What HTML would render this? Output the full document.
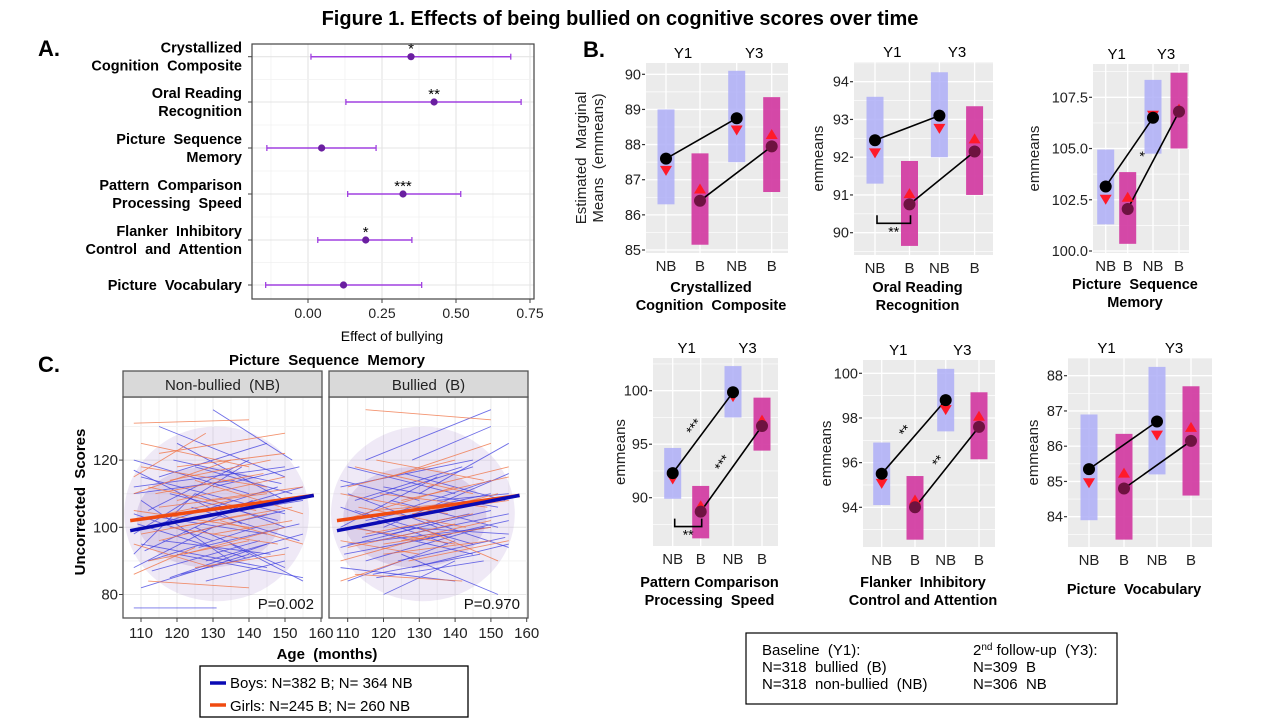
<!DOCTYPE html>
<html><head><meta charset="utf-8"><title>Figure 1</title>
<style>
html,body{margin:0;padding:0;background:#fff;}
svg{display:block;font-family:"Liberation Sans",Arial,sans-serif;}
text{white-space:pre;}
</style></head>
<body>
<svg id="fig" width="1280" height="720" viewBox="0 0 1280 720" xmlns="http://www.w3.org/2000/svg">
<text x="620" y="25" text-anchor="middle" font-size="20" font-weight="bold">Figure 1. Effects of being bullied on cognitive scores over time</text>
<text x="38" y="56" font-size="22" font-weight="bold">A.</text>
<text x="583" y="57" font-size="22" font-weight="bold">B.</text>
<text x="38" y="372" font-size="22" font-weight="bold">C.</text>
<g id="pa"></g>
<g id="pb"></g>
<g id="pc"></g>
<g>
<rect x="746" y="633" width="371" height="71" fill="#fff" stroke="#000" stroke-width="1.2"/>
<text font-size="15">
<tspan x="762" y="655">Baseline  (Y1):</tspan>
<tspan x="762" y="672">N=318  bullied  (B)</tspan>
<tspan x="762" y="689">N=318  non-bullied  (NB)</tspan>
<tspan x="973" y="655">2<tspan font-size="10" dy="-5">nd</tspan><tspan dy="5"> follow-up  (Y3):</tspan></tspan>
<tspan x="973" y="672">N=309  B</tspan>
<tspan x="973" y="689">N=306  NB</tspan>
</text>
</g>
</svg>
<script>
// ---------- Panel A data ----------
const aCategories = ["Crystallized|Cognition  Composite","Oral Reading|Recognition","Picture  Sequence|Memory","Pattern  Comparison|Processing  Speed","Flanker  Inhibitory|Control  and  Attention","Picture  Vocabulary"];
const aEstimates = [0.348,0.426,0.046,0.321,0.195,0.120];
const aLower = [0.010,0.128,-0.139,0.134,0.033,-0.143];
const aUpper = [0.685,0.720,0.230,0.516,0.351,0.384];
const aStars = ["*","**","","***","*",""];
const aTicks = [0,0.25,0.5,0.75];
const aTickLabels = ["0.00","0.25","0.50","0.75"];

// ---------- Panel B data ----------
const bTitles = [["Crystallized","Cognition  Composite"],["Oral Reading","Recognition"],["Picture  Sequence","Memory"],["Pattern Comparison","Processing  Speed"],["Flanker  Inhibitory","Control and Attention"],["Picture  Vocabulary"]];
const bCategories = ["NB","B","NB","B"];
const bBarLow = [[86.3,85.15,87.5,86.65],[91.3,89.65,92.0,91.0],[101.3,100.35,104.75,105.0],[89.9,86.2,97.5,94.4],[94.1,92.55,97.4,96.15],[83.9,83.35,85.2,84.6]];
const bBarHigh = [[89.0,87.75,90.1,89.35],[93.6,91.9,94.25,93.35],[104.95,103.85,108.35,108.7],[94.65,91.1,102.3,99.35],[96.9,95.4,100.2,99.15],[86.9,86.35,88.25,87.7]];
const bMeans = [[87.6,86.4,88.75,87.95],[92.45,90.75,93.1,92.15],[103.15,102.05,106.5,106.8],[92.3,88.7,99.85,96.7],[95.5,94.0,98.8,97.6],[85.35,84.8,86.7,86.15]];
const bTriangles = [[87.25,86.75,88.4,88.3],[92.1,91.05,92.75,92.5],[102.5,102.65,106.6,106.95],[91.7,89.3,99.4,97.3],[95.05,94.35,98.35,98.1],[84.95,85.25,86.3,86.55]];
const bTicks = [[85,86,87,88,89,90],[90,91,92,93,94],[100,102.5,105,107.5],[90,95,100],[94,96,98,100],[84,85,86,87,88]];
const bTickLabels = [["85","86","87","88","89","90"],["90","91","92","93","94"],["100.0","102.5","105.0","107.5"],["90","95","100"],["94","96","98","100"],["84","85","86","87","88"]];
const bLineStars = [["",""],["",""],["","*"],["***","***"],["**","**"],["",""]];
const bBracketStars = ["","**","","**","",""];

// ---------- Panel C data (age months, score) ----------
const cFacets = ["Non-bullied  (NB)","Bullied  (B)"];
const cPvalues = ["P=0.002","P=0.970"];
const cXTicks = [110,120,130,140,150,160];
const cYTicks = [80,100,120];
const cBoysFitAge = [107,158];
const cBoysFitScore = [[99,109.5],[99,109.5]];
const cGirlsFitAge = [107,158];
const cGirlsFitScore = [[102,109.5],[102,109.5]];
const cBoysNB = [[108,112,150,118],[110,95,145,88],[112,105,140,120],[115,130,150,115],[108,88,130,100],[120,92,155,85],[125,110,150,100],[108,76,131,76],[130,135,152,120],[112,100,148,112],[118,85,145,95],[108,120,140,110],[122,98,150,105],[110,108,135,90],[128,90,155,98],[115,115,145,125],[108,92,125,110],[132,105,155,112],[120,125,150,108],[110,82,140,92],[125,100,150,88],[115,103,145,98],[108,98,138,118],[135,95,155,84],[118,110,148,102],[112,90,142,100],[125,118,152,110],[108,104,130,96],[128,84,150,90],[120,102,155,108],[110,115,150,104],[116,96,146,92],[108,110,136,114],[124,106,154,96],[113,87,143,96],[130,112,154,118],[109,101,139,91],[119,120,149,113],[111,93,141,108],[121,86,151,94],[108,117,138,101],[126,94,154,101]];
const cGirlsNB = [[108,131,140,132],[110,118,145,112],[108,102,135,108],[115,122,150,128],[112,90,140,96],[120,108,150,115],[108,95,130,88],[118,100,148,95],[125,114,155,104],[108,110,135,120],[112,84,140,82],[130,98,152,102],[115,106,145,110],[108,115,128,128],[122,92,150,100],[110,125,140,118],[128,108,155,112],[115,96,145,104],[108,86,125,94],[120,118,150,122],[132,102,155,95],[112,112,142,105],[125,88,150,92],[108,105,140,100],[114,110,144,116],[120,100,152,106],[110,98,140,104],[118,114,146,120]];
const cBoysB = [[108,112,145,120],[110,95,150,100],[115,120,150,135],[108,88,140,84],[120,100,155,116],[125,92,152,80],[112,105,145,95],[130,110,155,125],[108,100,135,115],[118,85,148,90],[110,118,140,110],[122,98,150,105],[128,88,155,95],[115,108,145,118],[108,94,130,100],[132,102,155,94],[120,112,152,106],[110,84,140,96],[125,105,150,114],[115,90,148,100],[108,106,138,95],[128,120,150,130],[118,96,155,104],[112,100,145,92],[135,108,155,110],[120,80,140,90],[108,114,130,108],[125,100,155,98],[115,102,150,110],[110,110,135,100],[114,97,144,104],[122,108,152,100],[109,92,139,98],[126,116,154,108],[117,86,147,92],[130,96,155,102],[112,108,142,118],[124,90,154,97]];
const cGirlsB = [[115,135,150,132],[108,102,140,112],[112,118,145,110],[120,95,150,100],[108,90,135,98],[125,108,155,115],[110,112,140,120],[130,100,152,90],[118,105,148,108],[108,96,130,92],[122,115,150,125],[112,86,142,84],[128,104,155,108],[115,98,145,104],[108,110,138,104],[120,92,150,96],[132,112,155,118],[110,100,140,95],[125,96,150,102],[118,120,148,114],[108,84,125,90],[122,102,152,110],[113,106,143,100],[127,90,155,96],[110,94,140,101],[119,110,149,106]];

const NS="http://www.w3.org/2000/svg";
function mk(parent,tag,attrs,txt){const e=document.createElementNS(NS,tag);for(const k in attrs)e.setAttribute(k,attrs[k]);if(txt!==undefined)e.textContent=txt;parent.appendChild(e);return e;}

// ================= Panel A =================
(function(){
  const g=document.getElementById('pa');
  const L=252,R=534,T=44,B=299;
  const x=v=>308+v*296;
  const rowY=[56.7,102,148,194,240,285];
  const bg=mk(g,'rect',{x:L,y:T,width:R-L,height:B-T,fill:'#fff'});
  
  
  for(let v=-0.125;v<=0.76;v+=0.125){
    const major=Math.abs(v/0.25-Math.round(v/0.25))<1e-6;
    const l=mk(g,'line',{x1:x(v),x2:x(v),y1:T,y2:B,stroke:major?'#e4e4e4':'#f1f1f1','stroke-width':major?1.1:0.8});
    
    
  }
  for(let i=0;i<rowY.length;i++){
    const l=mk(g,'line',{x1:L,x2:R,y1:rowY[i],y2:rowY[i],stroke:'#e4e4e4','stroke-width':1.1});
    
    
    if(i<rowY.length-1){const m=(rowY[i]+rowY[i+1])/2;const l2=mk(g,'line',{x1:L,x2:R,y1:m,y2:m,stroke:'#f1f1f1','stroke-width':0.8});}
  }
  const fr=mk(g,'rect',{x:L,y:T,width:R-L,height:B-T,fill:'none',stroke:'#444','stroke-width':1.2});
  
  
  aCategories.forEach((c,i)=>{
    const y=rowY[i];
    const tk=mk(g,'line',{x1:L-4,x2:L,y1:y,y2:y,stroke:'#444'});
    
    
    const parts=c.split('|');
    const t=mk(g,'text',{'font-size':14.5,'font-weight':'bold','text-anchor':'end'});
    
    
    if(parts.length===1){mk(t,'tspan',{x:242,y:y+5},parts[0]);}
    else{mk(t,'tspan',{x:242,y:y-4},parts[0]);mk(t,'tspan',{x:242,y:y+14},parts[1]);}
    const eg=mk(g,'g',{});
    
    
    mk(eg,'line',{x1:x(aLower[i]),x2:x(aUpper[i]),y1:y,y2:y,stroke:'#a040e0','stroke-width':1.5});
    mk(eg,'line',{x1:x(aLower[i]),x2:x(aLower[i]),y1:y-3,y2:y+3,stroke:'#a040e0','stroke-width':1.3});
    mk(eg,'line',{x1:x(aUpper[i]),x2:x(aUpper[i]),y1:y-3,y2:y+3,stroke:'#a040e0','stroke-width':1.3});
    const p=mk(g,'circle',{cx:x(aEstimates[i]),cy:y,r:3.6,fill:'#6a1fa0'});
    
    
    if(aStars[i]){const s=mk(g,'text',{x:x(aEstimates[i]),y:y-3,'font-size':15,'text-anchor':'middle'},aStars[i]);}
  });
  aTicks.forEach((v,i)=>{
    const tk=mk(g,'line',{x1:x(v),x2:x(v),y1:B,y2:B+4,stroke:'#444'});
    
    
    const t=mk(g,'text',{x:x(v),y:B+19,'font-size':14,'text-anchor':'middle',fill:'#222'},aTickLabels[i]);
    
    
  });
  const xt=mk(g,'text',{x:392,y:341,'font-size':14,'text-anchor':'middle'},'Effect of bullying');
  
  
})();

// ================= Panel B =================
(function(){
  const g=document.getElementById('pb');
  const layouts=[
    {L:646,R:788,T:63,B:253,v0:85,p0:250,v1:90,p1:74.3,cx:[666,700,736.7,771.7],ylab:['Estimated  Marginal','Means  (emmeans)'],ylx:590,titleY:292},
    {L:854,R:993,T:62,B:255,v0:90,p0:232.7,v1:94,p1:81.7,cx:[875,909.5,939.4,974.6],ylab:['emmeans'],ylx:818,titleY:292},
    {L:1093,R:1189,T:64,B:253,v0:100,p0:251,v1:107.5,p1:97.3,cx:[1105.7,1127.7,1153,1179],ylab:['emmeans'],ylx:1034,titleY:289},
    {L:653,R:778,T:358,B:546,v0:90,p0:497.7,v1:100,p1:390.7,cx:[672.7,700.7,733,762],ylab:['emmeans'],ylx:620,titleY:587},
    {L:863,R:995,T:360,B:547,v0:94,p0:507.3,v1:100,p1:373.3,cx:[881.7,915,945.7,979],ylab:['emmeans'],ylx:826,titleY:587},
    {L:1068,R:1212,T:358,B:547,v0:84,p0:516.7,v1:88,p1:375.7,cx:[1089,1124,1157,1191],ylab:['emmeans'],ylx:1033,titleY:594}
  ];
  layouts.forEach((Ly,k)=>{
    const sg=mk(g,'g',{});
    
    
    const y=v=>Ly.p0+(v-Ly.v0)*(Ly.p1-Ly.p0)/(Ly.v1-Ly.v0);
    const bg=mk(sg,'rect',{x:Ly.L,y:Ly.T,width:Ly.R-Ly.L,height:Ly.B-Ly.T,fill:'#ebebeb'});
    
    
    const tks=bTicks[k];
    const step=tks[1]-tks[0];
    for(let v=tks[0]-step;v<=tks[tks.length-1]+step;v+=step/2){
      const py=y(v);if(py<Ly.T||py>Ly.B)continue;
      const major=tks.some(t=>Math.abs(t-v)<1e-6);
      const gl=mk(sg,'line',{x1:Ly.L,x2:Ly.R,y1:py,y2:py,stroke:'#fff','stroke-width':major?1.3:0.7});
      
      
    }
    Ly.cx.forEach(cx=>{const gl=mk(sg,'line',{x1:cx,x2:cx,y1:Ly.T,y2:Ly.B,stroke:'#fff','stroke-width':1.3});});
    tks.forEach((v,i)=>{
      const tk=mk(sg,'line',{x1:Ly.L-4,x2:Ly.L-1,y1:y(v),y2:y(v),stroke:'#333','stroke-width':1.2});
      
      
      const t=mk(sg,'text',{x:Ly.L-5,y:y(v)+5,'font-size':14.5,'text-anchor':'end',fill:'#222'},bTickLabels[k][i]);
      
      
    });
    const bw=17;
    bCategories.forEach((c,i)=>{
      const isNB=c==='NB';
      const r=mk(sg,'rect',{x:Ly.cx[i]-bw/2,y:y(bBarHigh[k][i]),width:bw,height:y(bBarLow[k][i])-y(bBarHigh[k][i]),fill:isNB?'#aeaef7':'#d33fa3',opacity:isNB?0.85:0.95});
      
      
      const t=mk(sg,'text',{x:Ly.cx[i],y:Ly.B+18,'font-size':15,'text-anchor':'middle',fill:'#222'},c);
      
      
    });
    [[0,2],[1,3]].forEach((pr,j)=>{
      const x1=Ly.cx[pr[0]],y1=y(bMeans[k][pr[0]]),x2=Ly.cx[pr[1]],y2=y(bMeans[k][pr[1]]);
      const ln=mk(sg,'line',{x1:x1,y1:y1,x2:x2,y2:y2,stroke:'#000','stroke-width':1.6});
      
      
      const st=bLineStars[k][j];
      if(st){
        const ang=Math.atan2(y2-y1,x2-x1)*180/Math.PI;
        const mx=(x1+x2)/2-5,my=(y1+y2)/2-3;
        const t=mk(sg,'text',{x:mx,y:my,'font-size':14,'text-anchor':'middle',transform:`rotate(${ang} ${mx} ${my})`},st);
        
        
      }
    });
    bCategories.forEach((c,i)=>{
      const cx=Ly.cx[i],ty=y(bTriangles[k][i]);
      const pts=c==='NB'?`${cx-6},${ty-5} ${cx+6},${ty-5} ${cx},${ty+5}`:`${cx-6},${ty+5} ${cx+6},${ty+5} ${cx},${ty-5}`;
      const tr=mk(sg,'polygon',{points:pts,fill:'#ff1a2a'});
      
      
    });
    bCategories.forEach((c,i)=>{
      const p=mk(sg,'circle',{cx:Ly.cx[i],cy:y(bMeans[k][i]),r:6,fill:c==='NB'?'#000':'#6e1240'});
      
      
    });
    if(bBracketStars[k]){
      const bx1=Ly.cx[0]+2,bx2=Ly.cx[1]+1;
      const yb=k===1?y(90.25):y(87.3);
      const br=mk(sg,'path',{d:`M${bx1},${yb-8} L${bx1},${yb} L${bx2},${yb} L${bx2},${yb-8}`,fill:'none',stroke:'#000','stroke-width':1.6});
      
      
      const t=mk(sg,'text',{x:(bx1+bx2)/2,y:yb+13,'font-size':14,'text-anchor':'middle'},bBracketStars[k]);
      
      
    }
    const y1x=(Ly.cx[0]+Ly.cx[1])/2,y3x=(Ly.cx[2]+Ly.cx[3])/2;
    const t1=mk(sg,'text',{x:y1x,y:Ly.T-5,'font-size':15,'text-anchor':'middle'},'Y1');
    
    
    const t3=mk(sg,'text',{x:y3x,y:Ly.T-5,'font-size':15,'text-anchor':'middle'},'Y3');
    
    
    const cy=(Ly.T+Ly.B)/2;
    const yl=mk(sg,'text',{'font-size':15,'text-anchor':'middle',fill:'#222',transform:`rotate(-90 ${Ly.ylx} ${cy})`});
    
    
    if(Ly.ylab.length===2){mk(yl,'tspan',{x:Ly.ylx,y:cy-4},Ly.ylab[0]);mk(yl,'tspan',{x:Ly.ylx,y:cy+13},Ly.ylab[1]);}
    else mk(yl,'tspan',{x:Ly.ylx,y:cy+5},Ly.ylab[0]);
    const tc=(Ly.L+Ly.R)/2-6;
    const tt=mk(sg,'text',{'font-size':14.5,'font-weight':'bold','text-anchor':'middle'});
    
    
    bTitles[k].forEach((s,j)=>mk(tt,'tspan',{x:tc,y:Ly.titleY+j*18},s));
  });
})();

// ================= Panel C =================
(function(){
  const g=document.getElementById('pc');
  const facets=[{L:123,R:322,a110:141,a160:321},{L:329,R:528,a110:347.7,a160:526.7}];
  const ST=371,SB=397,PB=618;
  const yS=v=>527.3-(v-100)*3.36;
  const segs=[[cBoysNB,cGirlsNB],[cBoysB,cGirlsB]];
  const t=mk(g,'text',{x:327,y:365,'font-size':15,'font-weight':'bold','text-anchor':'middle'},'Picture  Sequence  Memory');
  
  
  facets.forEach((F,k)=>{
    const xS=a=>F.a110+(a-110)*(F.a160-F.a110)/50;
    const fg=mk(g,'g',{});
    
    
    mk(fg,'rect',{x:F.L,y:SB,width:F.R-F.L,height:PB-SB,fill:'#fff'});
    for(let a=105;a<=160;a+=5){const px=xS(a);if(px<F.L||px>F.R)continue;const l=mk(fg,'line',{x1:px,x2:px,y1:SB,y2:PB,stroke:a%10===0?'#e8e8e8':'#f3f3f3'});}
    for(let v=80;v<=130;v+=10){const l=mk(fg,'line',{x1:F.L,x2:F.R,y1:yS(v),y2:yS(v),stroke:v%20===0?'#e8e8e8':'#f3f3f3'});}
    const cxm=(xS(107)+xS(155))/2;
    const hz=mk(fg,'ellipse',{cx:cxm,cy:yS(104),rx:(xS(155)-xS(107))/2+6,ry:(yS(78)-yS(130))/2,fill:'#9a78c8',opacity:0.16});
    
    
    const hz2=mk(fg,'ellipse',{cx:cxm-8,cy:yS(103),rx:(xS(150)-xS(110))/2,ry:(yS(88)-yS(118))/2,fill:'#7a50b0',opacity:0.16});
    
    
    segs[k].forEach((arr,j)=>{
      arr.forEach(s=>{
        const l=mk(fg,'line',{x1:xS(s[0]),y1:yS(s[1]),x2:xS(s[2]),y2:yS(s[3]),stroke:j===0?'#4040e0':'#f07040','stroke-width':0.9,opacity:0.75});
        
        
      });
    });
    const gl=mk(fg,'line',{x1:xS(cGirlsFitAge[0]),y1:yS(cGirlsFitScore[k][0]),x2:xS(cGirlsFitAge[1]),y2:yS(cGirlsFitScore[k][1]),stroke:'#f04a10','stroke-width':3.5});
    
    
    const bl=mk(fg,'line',{x1:xS(cBoysFitAge[0]),y1:yS(cBoysFitScore[k][0]),x2:xS(cBoysFitAge[1]),y2:yS(cBoysFitScore[k][1]),stroke:'#0a0ab4','stroke-width':3.5});
    
    
    mk(fg,'rect',{x:F.L,y:SB,width:F.R-F.L,height:PB-SB,fill:'none',stroke:'#555','stroke-width':1.3});
    const st=mk(fg,'rect',{x:F.L,y:ST,width:F.R-F.L,height:SB-ST,fill:'#d9d9d9',stroke:'#555','stroke-width':1.3});
    
    
    const sl=mk(fg,'text',{x:(F.L+F.R)/2,y:ST+19,'font-size':15,'text-anchor':'middle',fill:'#222'},cFacets[k]);
    
    
    const pv=mk(fg,'text',{x:F.R-8,y:609,'font-size':15,'text-anchor':'end',fill:'#111'},cPvalues[k]);
    
    
    cXTicks.forEach(a=>{
      const tk=mk(fg,'line',{x1:xS(a),x2:xS(a),y1:PB,y2:PB+4,stroke:'#444'});
      
      
      const tl=mk(fg,'text',{x:xS(a),y:PB+20,'font-size':15,'text-anchor':'middle',fill:'#222'},String(a));
      
      
    });
    if(k===0){
      cYTicks.forEach(v=>{
        const tk=mk(fg,'line',{x1:F.L-4,x2:F.L,y1:yS(v),y2:yS(v),stroke:'#444'});
        
        
        const tl=mk(fg,'text',{x:F.L-5,y:yS(v)+5,'font-size':15,'text-anchor':'end',fill:'#222'},String(v));
        
        
      });
    }
  });
  const xa=mk(g,'text',{x:327,y:659,'font-size':15,'font-weight':'bold','text-anchor':'middle'},'Age  (months)');
  
  
  const ya=mk(g,'text',{x:85,y:502,'font-size':15,'font-weight':'bold','text-anchor':'middle',transform:'rotate(-90 85 502)'},'Uncorrected  Scores');
  
  
  const lg=mk(g,'g',{});
  
  
  mk(lg,'rect',{x:200,y:666,width:268,height:51,fill:'#fff',stroke:'#000','stroke-width':1.3});
  const e1=mk(lg,'g',{});
  
  
  mk(e1,'line',{x1:210,x2:226,y1:683,y2:683,stroke:'#0a0ab4','stroke-width':3.5});
  mk(e1,'text',{x:230,y:688,'font-size':15},'Boys: N=382 B; N= 364 NB');
  const e2=mk(lg,'g',{});
  
  
  mk(e2,'line',{x1:210,x2:226,y1:705,y2:705,stroke:'#f04a10','stroke-width':3.5});
  mk(e2,'text',{x:230,y:711,'font-size':15},'Girls: N=245 B; N= 260 NB');
})();
</script>
</body></html>
